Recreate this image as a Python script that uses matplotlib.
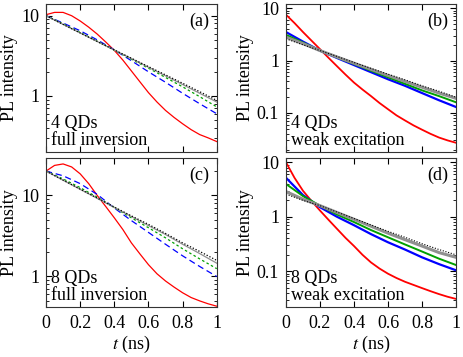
import matplotlib
matplotlib.use("Agg")
import matplotlib.pyplot as plt
from matplotlib.ticker import FuncFormatter, LogLocator, NullFormatter, MultipleLocator

plt.rcParams['font.family'] = ['Liberation Serif', 'DejaVu Serif']
plt.rcParams['mathtext.fontset'] = 'stix'
plt.rcParams['font.size'] = 13

# time grids (ns)
t11 = [0.0, 0.1, 0.2, 0.3, 0.4, 0.5, 0.6, 0.7, 0.8, 0.9, 1.0]
t21 = [0.0, 0.05, 0.1, 0.15, 0.2, 0.25, 0.3, 0.35, 0.4, 0.45, 0.5,
       0.55, 0.6, 0.65, 0.7, 0.75, 0.8, 0.85, 0.9, 0.95, 1.0]

# (a) 4 QDs, full inversion
a_red = [10.3, 11.0, 11.0, 10.0, 8.6, 7.2, 5.9, 4.7, 3.7, 2.8, 2.05,
         1.5, 1.1, 0.84, 0.66, 0.54, 0.45, 0.38, 0.33, 0.3, 0.27]
a_blue = [10.0, 8.1, 6.5, 5.0, 3.75, 2.75, 2.0, 1.48, 1.08, 0.8, 0.6]
a_green = [10.0, 7.9, 6.2, 4.8, 3.72, 2.87, 2.22, 1.7, 1.3, 0.98, 0.73]
a_gray = [10.0, 7.8, 6.1, 4.77, 3.73, 2.92, 2.28, 1.78, 1.39, 1.08, 0.84]
a_black = [10.0, 7.8, 6.1, 4.78, 3.75, 2.95, 2.32, 1.83, 1.44, 1.13, 0.88]

# (b) 4 QDs, weak excitation
b_red = [7.5, 5.2, 3.5, 2.4, 1.65, 1.13, 0.78, 0.54, 0.38, 0.28, 0.21,
         0.155, 0.118, 0.09, 0.072, 0.058, 0.048, 0.04, 0.034, 0.03, 0.027]
b_blue = [3.5, 2.3, 1.55, 1.12, 0.82, 0.6, 0.44, 0.33, 0.24, 0.175, 0.13]
b_green = [3.1, 2.2, 1.55, 1.15, 0.86, 0.64, 0.48, 0.36, 0.27, 0.21, 0.16]
b_gray = [2.8, 2.1, 1.55, 1.17, 0.89, 0.68, 0.52, 0.4, 0.31, 0.24, 0.19]
b_black = [2.6, 2.0, 1.55, 1.2, 0.92, 0.71, 0.55, 0.43, 0.33, 0.26, 0.2]

# (c) 8 QDs, full inversion
c_red = [20.0, 23.5, 24.5, 22.5, 18.5, 14.0, 10.0, 7.3, 5.3, 3.8, 2.6,
         1.9, 1.4, 1.08, 0.88, 0.74, 0.63, 0.55, 0.5, 0.46, 0.43]
c_blue = [20.0, 17.5, 14.0, 10.3, 7.0, 4.9, 3.5, 2.5, 1.8, 1.33, 1.0]
c_green = [20.0, 16.0, 12.5, 9.5, 7.1, 5.3, 4.0, 3.0, 2.2, 1.65, 1.25]
c_gray = [20.0, 15.4, 11.9, 9.2, 7.1, 5.5, 4.25, 3.3, 2.5, 1.92, 1.46]
c_black = [20.0, 15.5, 12.0, 9.3, 7.2, 5.6, 4.4, 3.4, 2.6, 2.04, 1.58]

# (d) 8 QDs, weak excitation
d_red = [10.0, 5.2, 3.0, 1.95, 1.3, 0.88, 0.6, 0.41, 0.29, 0.2, 0.145,
         0.112, 0.09, 0.075, 0.064, 0.056, 0.049, 0.043, 0.038, 0.034, 0.031]
d_blue = [5.2, 2.5, 1.5, 1.0, 0.7, 0.48, 0.34, 0.25, 0.18, 0.135, 0.104]
d_green = [4.0, 2.4, 1.6, 1.1, 0.8, 0.57, 0.42, 0.31, 0.23, 0.17, 0.13]
d_gray = [2.9, 2.1, 1.6, 1.2, 0.9, 0.67, 0.5, 0.38, 0.29, 0.22, 0.18]
d_black = [2.6, 2.0, 1.6, 1.22, 0.93, 0.71, 0.54, 0.42, 0.32, 0.25, 0.2]

panels = [
    ('(a)', '4 QDs\nfull inversion', (0.2, 14), False,
     a_red, a_blue, a_green, a_gray, a_black),
    ('(b)', '4 QDs\nweak excitation', (0.018, 12), True,
     b_red, b_blue, b_green, b_gray, b_black),
    ('(c)', '8 QDs\nfull inversion', (0.42, 29), False,
     c_red, c_blue, c_green, c_gray, c_black),
    ('(d)', '8 QDs\nweak excitation', (0.022, 12), True,
     d_red, d_blue, d_green, d_gray, d_black),
]

positions = [
    [0.0994, 0.5742, 0.3687, 0.4146],
    [0.6177, 0.5742, 0.3672, 0.4146],
    [0.0994, 0.1400, 0.3687, 0.4174],
    [0.6177, 0.1400, 0.3672, 0.4174],
]


def fmt(v, pos):
    if v >= 1:
        return '%d' % round(v)
    return '%g' % v


fig = plt.figure(figsize=(4.63, 3.57), dpi=100)

for i, (tag, note, ylim, weak, red, blue, green, gray, black) in enumerate(panels):
    ax = fig.add_axes(positions[i])
    if weak:
        ax.plot(t21, red, color='red', lw=1.3)
        ax.plot(t11, blue, color='blue', lw=1.6)
        ax.plot(t11, green, color='#00a000', lw=1.4)
        ax.plot(t11, gray, color='#909090', lw=2.2)
        ax.plot(t11, black, color='black', lw=0.8, ls=(0, (1, 1.5)))
    else:
        ax.plot(t21, red, color='red', lw=0.9)
        ax.plot(t11, blue, color='blue', lw=0.9, ls=(0, (5, 3)))
        ax.plot(t11, green, color='#00a000', lw=0.9, ls=(0, (2, 2)))
        ax.plot(t11, gray, color='#909090', lw=0.9)
        ax.plot(t11, black, color='black', lw=0.9, ls=(0, (1, 1.5)))

    ax.set_yscale('log')
    ax.set_xlim(0, 1)
    ax.set_ylim(*ylim)
    ax.xaxis.set_major_locator(MultipleLocator(0.2))
    ax.yaxis.set_major_locator(LogLocator(base=10))
    ax.yaxis.set_major_formatter(FuncFormatter(fmt))
    ax.yaxis.set_minor_locator(LogLocator(base=10, subs=range(2, 10)))
    ax.yaxis.set_minor_formatter(NullFormatter())
    ax.tick_params(which='both', direction='in', top=True, right=True)
    ax.tick_params(which='major', length=4, labelsize=13)
    ax.tick_params(axis='x', which='major', pad=6)
    ax.tick_params(axis='y', which='major', pad=5)
    ax.tick_params(which='minor', length=2)
    for s in ax.spines.values():
        s.set_linewidth(0.8)
        s.set_color('#333333')

    ax.set_ylabel('PL intensity', fontsize=13, labelpad=2)
    if i >= 2:
        ax.set_xticks([0, 0.2, 0.4, 0.6, 0.8, 1.0])
        ax.set_xticklabels(['0', '0.2', '0.4', '0.6', '0.8', '1'])
        ax.set_xlabel('$t$ (ns)', fontsize=13, labelpad=1)
    else:
        ax.set_xticklabels([])

    ax.text(0.955, 0.885, tag, transform=ax.transAxes, ha='right', va='center', fontsize=13)
    ax.text(0.03, 0.02, note, transform=ax.transAxes, ha='left', va='bottom',
            fontsize=13, linespacing=1.0)

fig.savefig('out.png', dpi=100)
